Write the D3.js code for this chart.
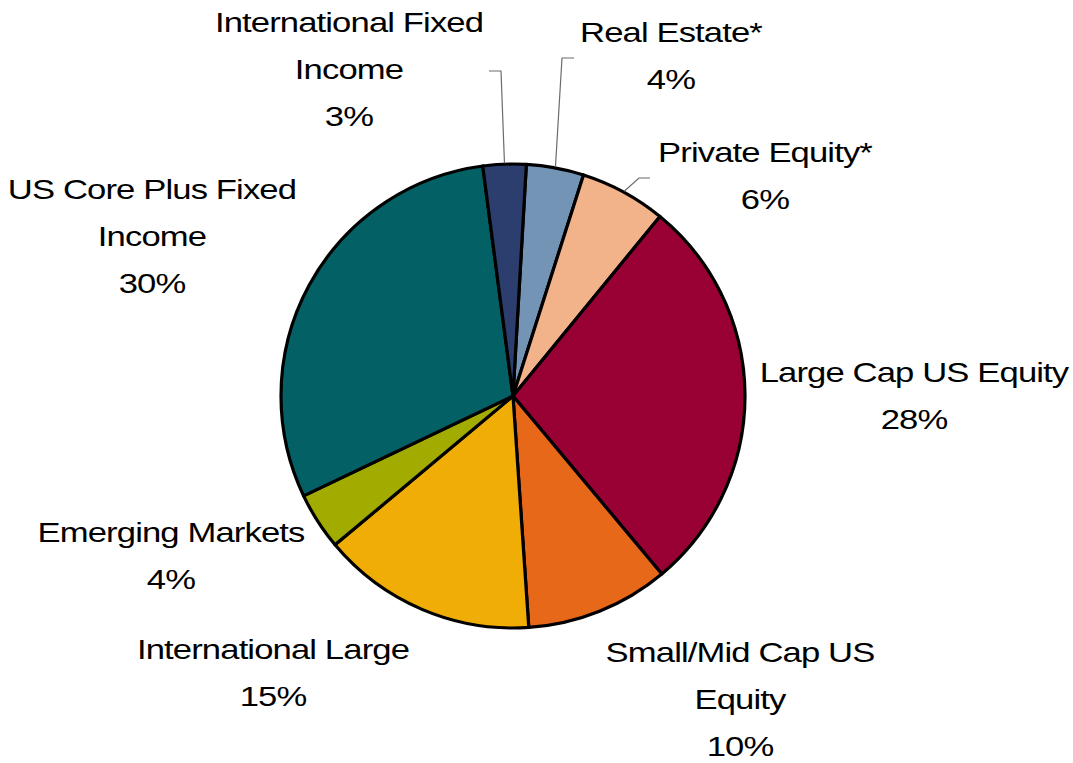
<!DOCTYPE html>
<html>
<head>
<meta charset="utf-8">
<script src="https://cdn.jsdelivr.net/npm/d3@7"></script>
<style>
  html, body { margin: 0; padding: 0; background: #fff; }
  svg { display: block; }
  text { font-family: "Liberation Sans", Arial, sans-serif; fill: #000; }
</style>
</head>
<body>
<svg id="chart" width="1073" height="763"></svg>
<script>
// Asset allocation, clockwise from just right of 12 o'clock
const categories = [
  "Real Estate*",
  "Private Equity*",
  "Large Cap US Equity",
  "Small/Mid Cap US Equity",
  "International Large",
  "Emerging Markets",
  "US Core Plus Fixed Income",
  "International Fixed Income"
];
const values = [4, 6, 28, 10, 15, 4, 30, 3];
const colors = ["#7494B6", "#F3B38A", "#990033", "#E8681A", "#F0AD06", "#A2AB00", "#036166", "#2B3E6E"];

// Label text lines (name split over lines, then percent)
const labelLines = [
  ["Real Estate*"],
  ["Private Equity*"],
  ["Large Cap US Equity"],
  ["Small/Mid Cap US", "Equity"],
  ["International Large"],
  ["Emerging Markets"],
  ["US Core Plus Fixed", "Income"],
  ["International Fixed", "Income"]
];

// Label block placement: centre x, first line y; optional leader elbow
const labelLayout = [
  { x: 671, y: 32, leader: { hx: 574, hy: 58, ex: 562 } },
  { x: 765, y: 152, leader: { hx: 650, hy: 178, ex: 639 } },
  { x: 914, y: 372 },
  { x: 740, y: 652 },
  { x: 273, y: 649 },
  { x: 171, y: 532 },
  { x: 152, y: 189 },
  { x: 349, y: 22, leader: { hx: 489, hy: 71, ex: 501 } }
];

const svg = d3.select("#chart");
const cx = 513, cy = 396, r = 232;
const lineH = 47;
const fontSize = 27.5;
const stretchX = 1.26;
const tracking = -0.7;
const startOffset = 3.3 * Math.PI / 180;

const pie = d3.pie()
  .value(d => d)
  .sort(null)
  .startAngle(startOffset)
  .endAngle(startOffset + 2 * Math.PI);

const arcs = pie(values);
const arc = d3.arc().innerRadius(0).outerRadius(r);

const g = svg.append("g").attr("transform", `translate(${cx},${cy})`);

g.selectAll("path.slice")
  .data(arcs)
  .join("path")
  .attr("class", "slice")
  .attr("d", arc)
  .attr("fill", (d, i) => colors[i])
  .attr("stroke", "#000")
  .attr("stroke-width", 3.2)
  .attr("stroke-linejoin", "round");

// Leader lines for the narrow top slices
arcs.forEach((a, i) => {
  const L = labelLayout[i].leader;
  if (!L) return;
  const mid = (a.startAngle + a.endAngle) / 2;
  const px = cx + Math.sin(mid) * (r + 1);
  const py = cy - Math.cos(mid) * (r + 1);
  svg.append("polyline")
    .attr("points", `${L.hx},${L.hy} ${L.ex},${L.hy} ${px},${py}`)
    .attr("fill", "none")
    .attr("stroke", "#6b6b6b")
    .attr("stroke-width", 1.2);
});

// Labels (wide lettering, tight tracking)
arcs.forEach((a, i) => {
  const pos = labelLayout[i];
  const lines = labelLines[i].concat([d3.format(".0f")(values[i]) + "%"]);
  const t = svg.append("text")
    .attr("text-anchor", "middle")
    .attr("font-size", fontSize)
    .attr("letter-spacing", tracking)
    .attr("transform", `translate(${pos.x},0) scale(${stretchX},1)`);
  lines.forEach((s, k) => {
    t.append("tspan")
      .attr("x", 0)
      .attr("y", pos.y + k * lineH)
      .attr("dy", "0.35em")
      .text(s);
  });
});
</script>
</body>
</html>
